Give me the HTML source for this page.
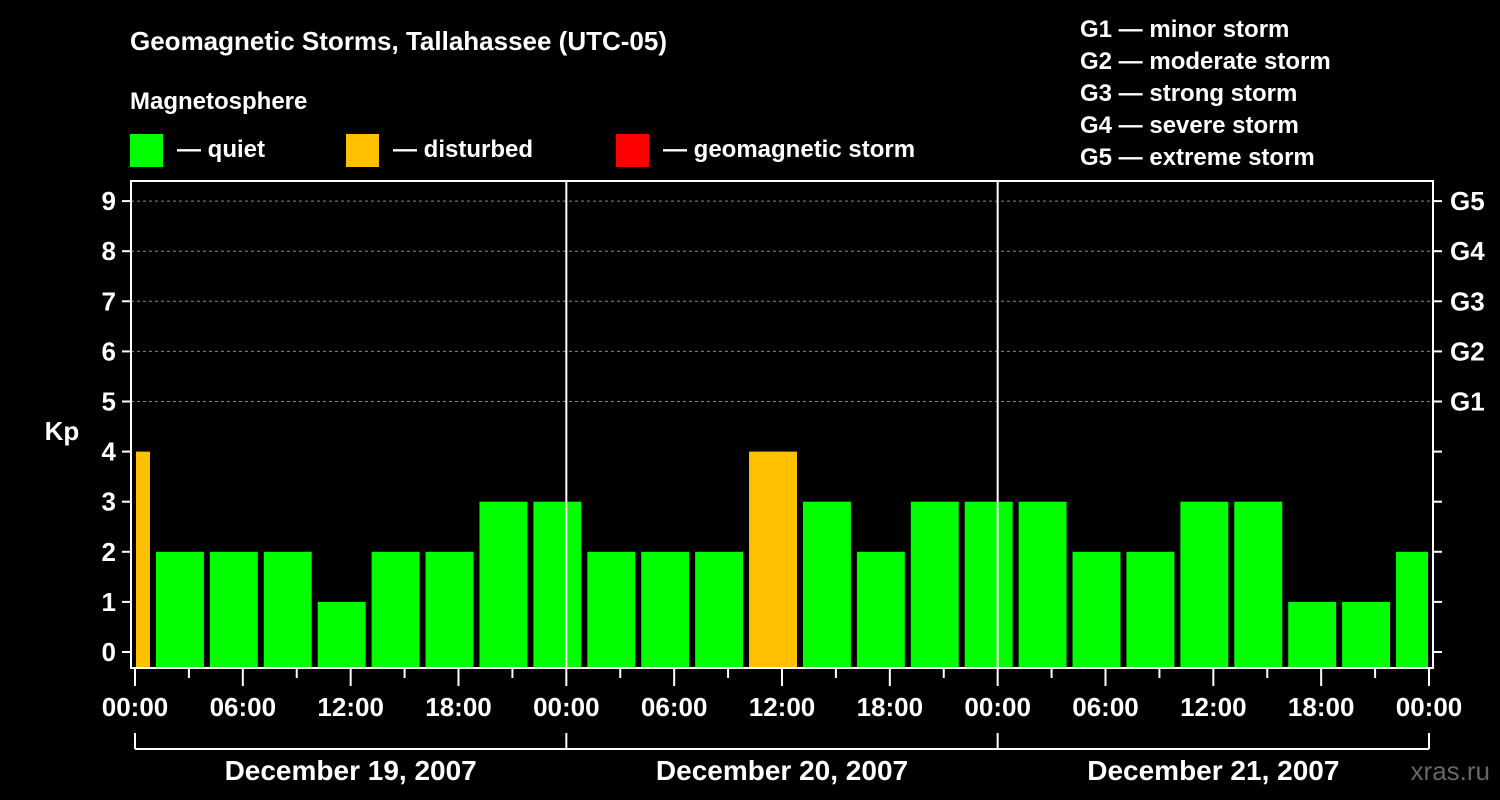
<!DOCTYPE html>
<html><head><meta charset="utf-8"><style>
body{margin:0;background:#000;}
svg{display:block;font-family:"Liberation Sans",Arial,sans-serif;font-weight:bold;}
</style></head><body>
<svg id="c" width="1500" height="800" viewBox="0 0 1500 800">
<rect width="1500" height="800" fill="#000"/>
<text x="130" y="50" fill="#fff" font-size="26">Geomagnetic Storms, Tallahassee (UTC-05)</text>
<text x="130" y="109" fill="#fff" font-size="24">Magnetosphere</text>
<g><rect x="130" y="134" width="33" height="33" fill="#00ff00"/><text x="177" y="157" fill="#fff" font-size="24">— quiet</text></g>
<g><rect x="346" y="134" width="33" height="33" fill="#ffc000"/><text x="393" y="157" fill="#fff" font-size="24">— disturbed</text></g>
<g><rect x="616" y="134" width="33" height="33" fill="#ff0000"/><text x="663" y="157" fill="#fff" font-size="24">— geomagnetic storm</text></g>
<g fill="#fff" font-size="24">
<text x="1080" y="37">G1 — minor storm</text>
<text x="1080" y="69">G2 — moderate storm</text>
<text x="1080" y="101">G3 — strong storm</text>
<text x="1080" y="133">G4 — severe storm</text>
<text x="1080" y="165">G5 — extreme storm</text>
</g>
<text x="62" y="440" fill="#fff" font-size="26" text-anchor="middle">Kp</text>
<text x="1490" y="780" fill="#666" font-size="26" text-anchor="end" font-weight="normal">xras.ru</text>
<g id="g"></g>
</svg>
<script>
const kpValues=[4,2,2,2,1,2,2,3,3,2,2,2,4,3,2,3,3,3,2,2,3,3,1,1,2];
const barStartHours=[-2,1,4,7,10,13,16,19,22,25,28,31,34,37,40,43,46,49,52,55,58,61,64,67,70];
const dayLabels=["December 19, 2007","December 20, 2007","December 21, 2007"];
const gLabels=["G1","G2","G3","G4","G5"];
const hourLabels=["00:00","06:00","12:00","18:00"];
const NS="http://www.w3.org/2000/svg";
const g=document.getElementById('g');
const X0=135,X1=1429,H=72,Y0=652,YU=50.1,PT=181,PB=668,PL=131,PR=1433;
const xs=h=>X0+(X1-X0)*h/H;
const ys=v=>Y0-v*YU;
function el(t,a,txt){const e=document.createElementNS(NS,t);for(const k in a)e.setAttribute(k,a[k]);if(txt!==undefined)e.textContent=txt;g.appendChild(e);return e;}
// bars
barStartHours.forEach((h,i)=>{
 let a=Math.max(xs(h)+3,X0+1),b=Math.min(xs(h+3)-3,X1-1);
 const v=kpValues[i];
 const col=v>=5?"#ff0000":(v>=4?"#ffc000":"#00ff00");
 const r=el('rect',{x:a,y:ys(v),width:b-a,height:PB-ys(v),fill:col});
 
 
});
// grid
for(let v=5;v<=9;v++){
 const l=el('line',{x1:PL,x2:PR,y1:ys(v),y2:ys(v),stroke:"#888","stroke-dasharray":"3,3","stroke-width":1});
 
 
 const t=el('text',{x:1450,y:ys(v)+9,fill:"#fff","font-size":26},gLabels[v-5]);
 
 
}
for(let v=0;v<=9;v++){
 const t=el('text',{x:116,y:ys(v)+9,fill:"#fff","font-size":26,"text-anchor":"end"},String(v));
 
 
 el('line',{x1:122,x2:PL,y1:ys(v),y2:ys(v),stroke:"#fff","stroke-width":2});
 el('line',{x1:PR,x2:PR+9,y1:ys(v),y2:ys(v),stroke:"#fff","stroke-width":2});
}
// day separators
[24,48].forEach(h=>{const l=el('line',{x1:xs(h),x2:xs(h),y1:PT,y2:PB,stroke:"#fff","stroke-width":2});
 
 });
// frame
const f=el('rect',{x:PL,y:PT,width:PR-PL,height:PB-PT,fill:"none",stroke:"#fff","stroke-width":2});


// x ticks
for(let h=0;h<=72;h+=3){
 const major=h%6===0;
 el('line',{x1:xs(h),x2:xs(h),y1:PB,y2:major?PB+18:PB+10,stroke:"#fff","stroke-width":2});
 if(major){const t=el('text',{x:xs(h),y:716,fill:"#fff","font-size":26,"text-anchor":"middle"},hourLabels[(h%24)/6]);
  
  }
}
// day bracket
el('line',{x1:X0,x2:X1,y1:749,y2:749,stroke:"#fff","stroke-width":2});
[0,24,48,72].forEach(h=>el('line',{x1:xs(h),x2:xs(h),y1:733,y2:749,stroke:"#fff","stroke-width":2}));
dayLabels.forEach((d,i)=>{const t=el('text',{x:xs(i*24+12),y:780,fill:"#fff","font-size":28,"text-anchor":"middle"},d);
 
 });
</script>
</body></html>
